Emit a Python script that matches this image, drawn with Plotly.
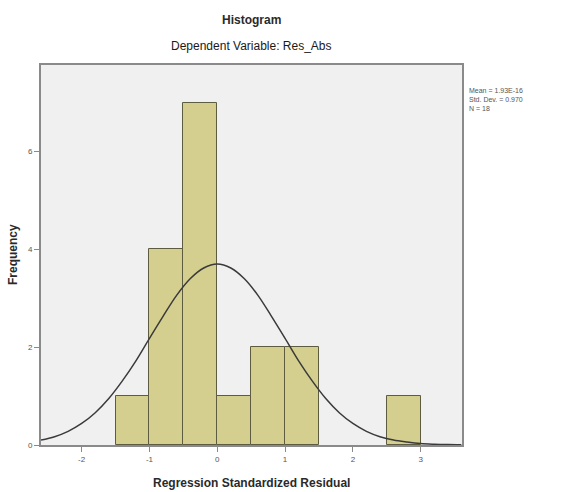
import plotly.graph_objects as go

# Histogram bins (centers) and counts
bin_centers = [-1.25, -0.75, -0.25, 0.25, 0.75, 1.25, 2.75]
counts = [1, 4, 7, 1, 2, 2, 1]

# Normal curve
curve_x = [-2.6, -2.4, -2.2, -2.0, -1.8, -1.6, -1.4, -1.2, -1.0, -0.8, -0.6, -0.4, -0.2, 0.0,
           0.2, 0.4, 0.6, 0.8, 1.0, 1.2, 1.4, 1.6, 1.8, 2.0, 2.2, 2.4, 2.6, 2.8, 3.0, 3.2, 3.4, 3.6]
curve_y = [0.10, 0.17, 0.28, 0.44, 0.66, 0.95, 1.31, 1.72, 2.18, 2.63, 3.06, 3.40, 3.62, 3.70,
           3.62, 3.40, 3.06, 2.63, 2.18, 1.72, 1.31, 0.95, 0.66, 0.44, 0.28, 0.17, 0.10, 0.06, 0.03, 0.016, 0.008, 0.004]

x_ticks = [-2, -1, 0, 1, 2, 3]
y_ticks = [0, 2, 4, 6]
stats_lines = ["Mean = 1.93E-16", "Std. Dev. = 0.970", "N = 18"]

fig = go.Figure()
fig.add_trace(go.Bar(
    x=bin_centers, y=counts, width=0.5,
    marker=dict(color="#d4cf8f", line=dict(color="#5e5c40", width=1)),
    hoverinfo="x+y", showlegend=False,
))
fig.add_trace(go.Scatter(
    x=curve_x, y=curve_y, mode="lines", line=dict(color="#3a3a3a", width=1.5, shape="spline"),
    showlegend=False, hoverinfo="skip",
))

fig.update_layout(
    width=569, height=492,
    margin=dict(l=41, r=107, t=65, b=47),
    paper_bgcolor="white", plot_bgcolor="#f0f0f0",
    font=dict(family="Liberation Sans, Arial, sans-serif", color="#333333"),
    bargap=0,
)
fig.update_xaxes(
    range=[-2.6, 3.61], tickvals=x_ticks, ticktext=[str(v) for v in x_ticks], automargin=False,
    showgrid=False, zeroline=False, showline=True, linecolor="#8a8a8a", linewidth=2, mirror=True,
    ticks="outside", ticklen=5, tickcolor="#8a8a8a", tickfont=dict(size=8, color="#555555"),
)
fig.update_yaxes(
    range=[0, 7.77], tickvals=y_ticks, ticktext=[str(v) for v in y_ticks], automargin=False,
    showgrid=False, zeroline=False, showline=True, linecolor="#8a8a8a", linewidth=2, mirror=True,
    ticks="outside", ticklen=5, tickcolor="#8a8a8a", tickfont=dict(size=8, color="#555555"),
)

fig.add_annotation(text="<b>Regression Standardized Residual</b>", xref="paper", yref="paper",
                   x=0.5, y=0.0, yshift=-38, yanchor="middle", showarrow=False,
                   font=dict(size=12, color="#2a2a2a"))
fig.add_annotation(text="<b>Frequency</b>", xref="paper", yref="paper", textangle=-90,
                   x=0.0, y=0.5, xshift=-28, xanchor="center", yanchor="middle", showarrow=False,
                   font=dict(size=12, color="#2a2a2a"))
fig.add_annotation(text="<b>Histogram</b>", xref="paper", yref="paper", x=0.5, y=1.0,
                   yshift=45, yanchor="middle", showarrow=False, font=dict(size=12, color="#2a2a2a"))
fig.add_annotation(text="Dependent Variable: Res_Abs", xref="paper", yref="paper", x=0.5, y=1.0,
                   yshift=19, yanchor="middle", showarrow=False, font=dict(size=12, color="#1a1a1a"))
fig.add_annotation(text="<br>".join(stats_lines), xref="paper", yref="paper", x=1.0, y=1.0,
                   xshift=5, yshift=-20, xanchor="left", yanchor="top", align="left", showarrow=False,
                   font=dict(size=7, color="#555555"))

fig.write_html("out.html")
